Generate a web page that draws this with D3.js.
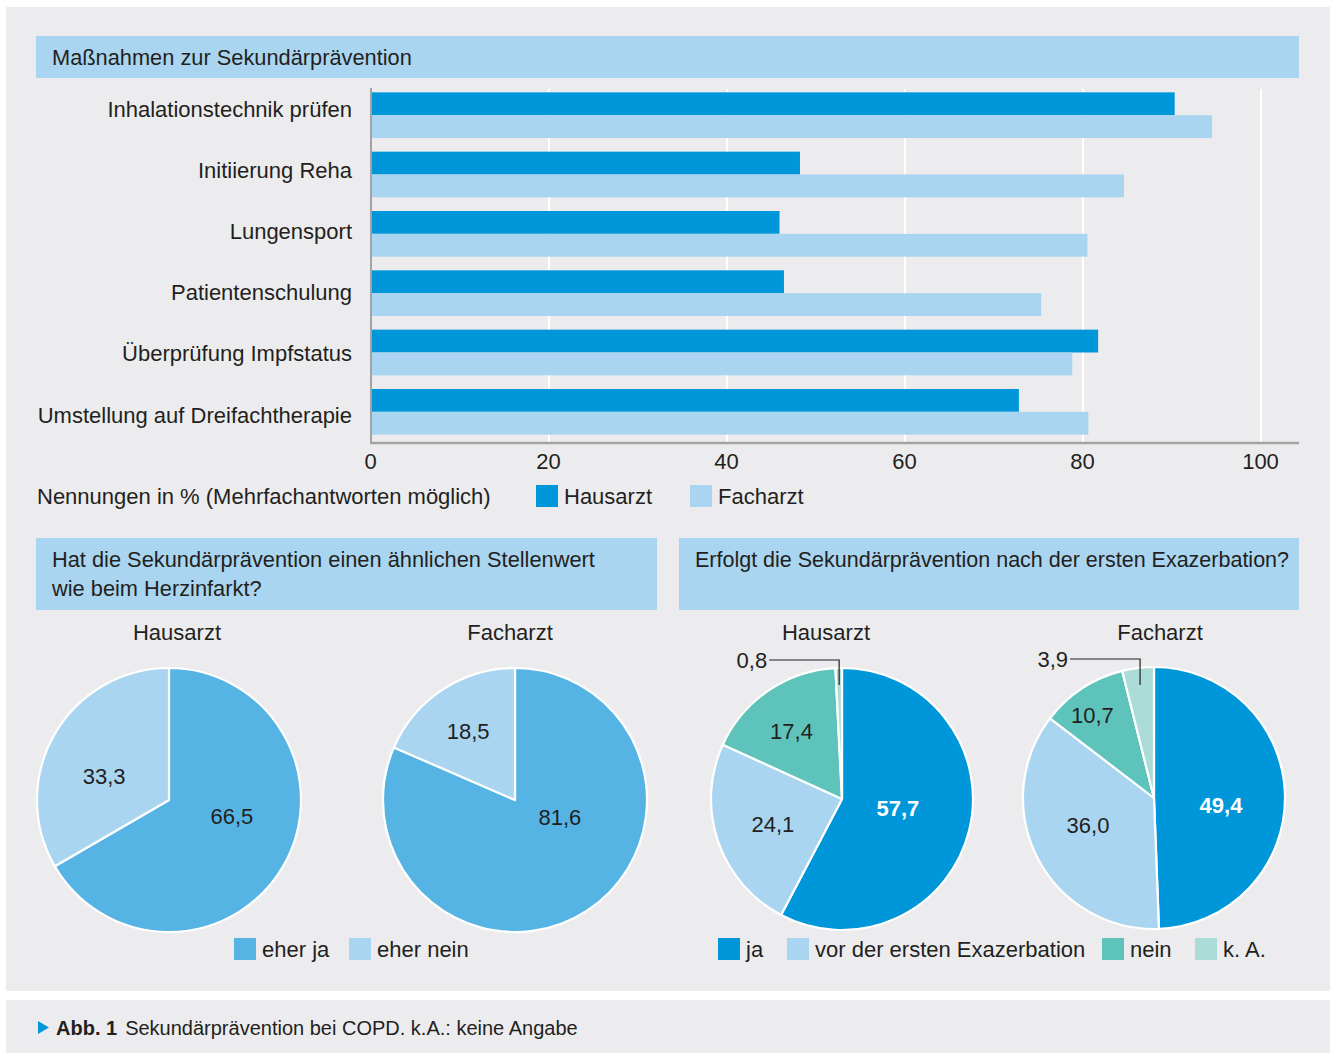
<!DOCTYPE html>
<html><head><meta charset="utf-8">
<script src="https://cdn.jsdelivr.net/npm/d3@7"></script>
<style>
body{margin:0;background:#fff;}
svg text{font-family:"Liberation Sans",Arial,sans-serif;fill:#231f20;}
</style></head>
<body><svg id="c" width="1335" height="1053"></svg>
<script>
// ---------- DATA ----------
const categories = ["Inhalationstechnik prüfen","Initiierung Reha","Lungensport","Patientenschulung","Überprüfung Impfstatus","Umstellung auf Dreifachtherapie"];
const seriesNames = ["Hausarzt","Facharzt"];
const hausarzt = [90.3, 48.2, 45.9, 46.4, 81.7, 72.8];
const facharzt = [94.5, 84.6, 80.5, 75.3, 78.8, 80.6];
const xTicks = [0,20,40,60,80,100];

const stellenwertLabels = ["eher ja","eher nein"];
const stellenwertHausarzt = [66.5, 33.3];
const stellenwertFacharzt = [81.6, 18.5];

const exazerbationLabels = ["ja","vor der ersten Exazerbation","nein","k. A."];
const exazerbationHausarzt = [57.7, 24.1, 17.4, 0.8];
const exazerbationFacharzt = [49.4, 36.0, 10.7, 3.9];

// ---------- STYLE ----------
const C = {
  panel:"#ececee", header:"#a9d5f0", dark:"#0096da", light:"#a9d5f0",
  mid:"#56b4e5", teal:"#5ec4bb", lteal:"#acdcd7", axis:"#a3a3a5", text:"#231f20"
};
const FS = 22;
const locale = d3.formatLocale({decimal:",", thousands:".", grouping:[3], currency:["","€"]});
const fmt = locale.format(".1f");

const svg = d3.select("#c");
// panels
svg.append("rect").attr("x",6).attr("y",7).attr("width",1324).attr("height",984).attr("fill",C.panel);
svg.append("rect").attr("x",6).attr("y",1000).attr("width",1324).attr("height",53).attr("fill",C.panel);

// headers
function header(x,y,w,h,lines,fs){
  svg.append("rect").attr("x",x).attr("y",y).attr("width",w).attr("height",h).attr("fill",C.header);
  lines.forEach((t,i)=>{
    svg.append("text").attr("x",x+16).attr("y",y+21+i*29).attr("dy","0.35em")
      .attr("font-size",fs||FS).text(t);
  });
}
header(36,36,1263,42,["Maßnahmen zur Sekundärprävention"],21.8);
header(36,538,621,72,["Hat die Sekundärprävention einen ähnlichen Stellenwert","wie beim Herzinfarkt?"],21.8);
header(679,538,620,72,["Erfolgt die Sekundärprävention nach der ersten Exazerbation?"],21.5);

// ---------- BAR CHART ----------
const x = d3.scaleLinear().domain([0,100]).range([371,1261]);
const y = d3.scaleBand().domain(categories).range([87,440]).paddingInner(0.23).paddingOuter(0.09);
const ys = d3.scaleBand().domain(seriesNames).range([0,y.bandwidth()]);
const yLabel = d3.scalePoint().domain(categories).range([109,415]);
const plotTop = 89, plotBottom = 443;

// gridlines
svg.append("g").selectAll("line").data(xTicks.filter(d=>d>0)).join("line")
  .attr("x1",d=>x(d)).attr("x2",d=>x(d)).attr("y1",plotTop).attr("y2",plotBottom)
  .attr("stroke","#fff").attr("stroke-width",2);

const rows = categories.map((c,i)=>({cat:c, vals:[hausarzt[i], facharzt[i]]}));
const g = svg.append("g");
rows.forEach(r=>{
  g.selectAll(null).data(seriesNames.map((s,j)=>({s, v:r.vals[j]}))).join("rect")
    .attr("x",x(0)).attr("y",d=>y(r.cat)+ys(d.s))
    .attr("width",d=>x(d.v)-x(0)).attr("height",ys.bandwidth())
    .attr("fill",d=>d.s==="Hausarzt"?C.dark:C.light);
});

// axes lines
svg.append("line").attr("x1",x(0)).attr("x2",x(0)).attr("y1",plotTop-1).attr("y2",plotBottom+1)
  .attr("stroke",C.axis).attr("stroke-width",2);
svg.append("line").attr("x1",x(0)-1).attr("x2",1299).attr("y1",plotBottom).attr("y2",plotBottom)
  .attr("stroke",C.axis).attr("stroke-width",2.5);

// x axis labels
const xAxis = d3.axisBottom(x).tickValues(xTicks).tickSize(0).tickPadding(0).tickFormat(d3.format("d"));
const ax = svg.append("g").attr("transform",`translate(-1,${plotBottom+18})`).call(xAxis);
ax.select(".domain").remove();
ax.selectAll("text").attr("font-size",FS).attr("dy","0.35em").attr("y",0)
  .attr("font-family","Liberation Sans, Arial, sans-serif").attr("fill",C.text);

// y labels
const yAxis = d3.axisLeft(yLabel).tickSize(0).tickPadding(0);
const ay = svg.append("g").attr("transform",`translate(352,0)`).call(yAxis);
ay.select(".domain").remove();
ay.selectAll("text").attr("font-size",FS).attr("x",0)
  .attr("font-family","Liberation Sans, Arial, sans-serif").attr("fill",C.text);

// legend bar chart
svg.append("text").attr("x",37).attr("y",496).attr("dy","0.35em").attr("font-size",FS)
  .text("Nennungen in % (Mehrfachantworten möglich)");
function legendItem(x0, yc, color, label){
  svg.append("rect").attr("x",x0).attr("y",yc-11).attr("width",22).attr("height",22).attr("fill",color);
  svg.append("text").attr("x",x0+28).attr("y",yc).attr("dy","0.35em").attr("font-size",FS).text(label);
}
legendItem(536,496,C.dark,"Hausarzt");
legendItem(690,496,C.light,"Facharzt");

// ---------- PIES ----------
const pieGen = d3.pie().sort(null).value(d=>d.v);
function drawPie(opt){
  const {cx,cy,r,values,labels,colors,title,titleX,nudges,whiteFirst,leader} = opt;
  const gp = svg.append("g").attr("transform",`translate(${cx},${cy})`);
  const data = values.map((v,i)=>({v,label:labels[i],color:colors[i],i}));
  const arcs = pieGen(data);
  const arc = d3.arc().innerRadius(0).outerRadius(r);
  gp.selectAll("path").data(arcs).join("path").attr("d",arc)
    .attr("fill",d=>d.data.color).attr("stroke","#fff").attr("stroke-width",2.2).attr("stroke-linejoin","round");
  const lab = d3.arc().innerRadius(r*0.55).outerRadius(r*0.55);
  arcs.forEach((a,i)=>{
    if (leader && i===leader.index) return;
    const c = lab.centroid(a);
    const n = nudges[i]||[0,0];
    const t = gp.append("text").attr("x",c[0]+n[0]).attr("y",c[1]+n[1]).attr("dy","0.35em")
      .attr("text-anchor","middle").attr("font-size",FS).text(fmt(a.data.v));
    if (whiteFirst && i===0) t.attr("font-weight","bold").style("fill","#fff");
  });
  if (leader){
    const a = arcs[leader.index];
    const p = d3.arc().innerRadius(r*0.87).outerRadius(r*0.87).centroid(a);
    const ly = -r-8;
    gp.append("polyline").attr("points",`${p[0]-70},${ly} ${p[0]},${ly} ${p[0]},${p[1]}`)
      .attr("fill","none").attr("stroke","#231f20").attr("stroke-width",1.2);
    gp.append("text").attr("x",p[0]-72).attr("y",ly).attr("dy","0.35em").attr("text-anchor","end")
      .attr("font-size",FS).text(fmt(a.data.v));
  }
  svg.append("text").attr("x",titleX).attr("y",632).attr("dy","0.35em").attr("text-anchor","middle")
    .attr("font-size",FS).text(title);
}
drawPie({cx:169,cy:800,r:132,values:stellenwertHausarzt,labels:stellenwertLabels,colors:[C.mid,C.light],
  title:"Hausarzt",titleX:177,nudges:[[0,-20],[-2,13]]});
drawPie({cx:515,cy:800,r:132,values:stellenwertFacharzt,labels:stellenwertLabels,colors:[C.mid,C.light],
  title:"Facharzt",titleX:510,nudges:[[5,-43],[-7,-8]]});
const exColors = [C.dark,C.light,C.teal,C.lteal];
drawPie({cx:842,cy:799,r:131,values:exazerbationHausarzt,labels:exazerbationLabels,colors:exColors,
  title:"Hausarzt",titleX:826,nudges:[[-14,-8],[-1,2],[-10,-8]],whiteFirst:true,leader:{index:3}});
drawPie({cx:1154,cy:798,r:131,values:exazerbationFacharzt,labels:exazerbationLabels,colors:exColors,
  title:"Facharzt",titleX:1160,nudges:[[-5,9],[-2,-6],[-22,-22]],whiteFirst:true,leader:{index:3}});

// pie legends
legendItem(234,949,C.mid,"eher ja");
legendItem(349,949,C.light,"eher nein");
legendItem(718,949,C.dark,"ja");
legendItem(787,949,C.light,"vor der ersten Exazerbation");
legendItem(1102,949,C.teal,"nein");
legendItem(1195,949,C.lteal,"k. A.");

// ---------- CAPTION ----------
svg.append("path").attr("d","M38,1021 L49,1027.5 L38,1034 Z").attr("fill",C.dark);
const cap = svg.append("text").attr("x",56).attr("y",1028).attr("dy","0.35em").attr("font-size",20);
cap.append("tspan").attr("font-weight","bold").text("Abb. 1");
cap.append("tspan").attr("dx",8).text("Sekundärprävention bei COPD. k.A.: keine Angabe");
</script></body></html>
